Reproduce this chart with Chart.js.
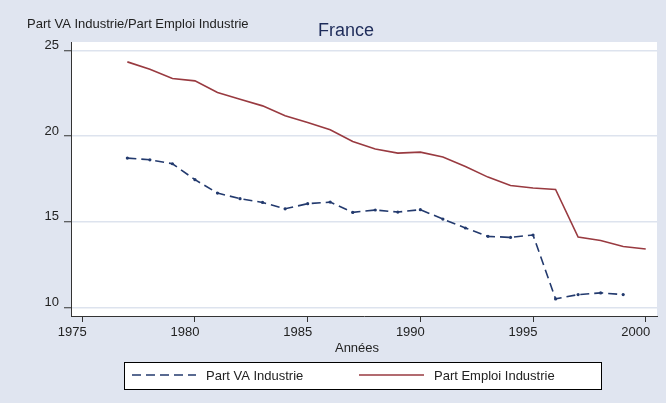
<!DOCTYPE html>
<html><head><meta charset="utf-8">
<script src="https://cdn.jsdelivr.net/npm/chart.js@4"></script>
<style>html,body{margin:0;padding:0;background:#e0e5f0;overflow:hidden}#wrap{width:666px;height:403px}</style>
</head><body><div id="wrap"><canvas id="c" width="666" height="403"></canvas></div>
<script>
// ---- data ----
const years = [1977,1978,1979,1980,1981,1982,1983,1984,1985,1986,1987,1988,1989,1990,1991,1992,1993,1994,1995,1996,1997,1998,1999,2000];
const partVA = [18.72,18.62,18.39,17.46,16.68,16.35,16.13,15.76,16.06,16.15,15.55,15.69,15.57,15.71,15.16,14.64,14.15,14.09,14.23,10.50,10.75,10.85,10.75];
const partEmploi = [24.34,23.91,23.37,23.23,22.55,22.16,21.77,21.19,20.80,20.37,19.69,19.25,19.01,19.07,18.78,18.23,17.61,17.12,16.97,16.89,14.11,13.91,13.56,13.41];
const xTicks = [1975,1980,1985,1990,1995,2000];
const yTicks = [10,15,20,25];
const seriesLabels = ['Part VA Industrie','Part Emploi Industrie'];
const chartTitle = 'France';
const yTitle = 'Part VA Industrie/Part Emploi Industrie';
const xTitle = 'Années';

// ---- styles ----
const FONT = '"Liberation Sans", Arial, Helvetica, sans-serif';
const BG = '#e0e5f0';
const GRID = '#dde3ee';
const NAVY = '#233a6e';
const MAROON = '#993a40';
const AXIS = '#333333';

const toPts = (xs, ys) => ys.map((v, i) => ({x: xs[i], y: v}));

const bgPlugin = {
  id: 'bg',
  beforeDraw(chart) {
    const {ctx, chartArea: a} = chart;
    ctx.save();
    ctx.fillStyle = BG;
    ctx.fillRect(0, 0, chart.width, chart.height);
    ctx.fillStyle = '#ffffff';
    ctx.fillRect(a.left, a.top, a.right - a.left, a.bottom - a.top);
    ctx.restore();
  }
};

const textPlugin = {
  id: 'texts',
  afterDraw(chart) {
    const ctx = chart.ctx;
    ctx.save();
    ctx.textBaseline = 'alphabetic';
    // y title (horizontal, top-left)
    ctx.font = '13px ' + FONT;
    ctx.fillStyle = '#222';
    ctx.textAlign = 'left';
    ctx.fillText(yTitle, 27, 28);
    // main title
    ctx.font = '18px ' + FONT;
    ctx.fillStyle = '#1e2c5a';
    ctx.textAlign = 'center';
    ctx.fillText(chartTitle, 346, 36);
    // x title
    ctx.font = '13px ' + FONT;
    ctx.fillStyle = '#222';
    ctx.fillText(xTitle, 357, 351.5);
    // legend box
    const L = {x: 124.5, y: 362.5, w: 477, h: 27};
    ctx.fillStyle = '#ffffff';
    ctx.fillRect(L.x, L.y, L.w, L.h);
    ctx.strokeStyle = '#000';
    ctx.lineWidth = 1;
    ctx.strokeRect(L.x, L.y, L.w, L.h);
    const items = [{x0: 132, x1: 196, tx: 206}, {x0: 359, x1: 424, tx: 434}];
    const ly = 375;
    chart.data.datasets.forEach((ds, i) => {
      const it = items[i];
      ctx.save();
      ctx.strokeStyle = ds.borderColor;
      ctx.lineWidth = ds.borderWidth;
      ctx.setLineDash(ds.borderDash || []);
      ctx.beginPath();
      ctx.moveTo(it.x0, ly);
      ctx.lineTo(it.x1, ly);
      ctx.stroke();
      ctx.restore();
      ctx.font = '13px ' + FONT;
      ctx.fillStyle = '#222';
      ctx.textAlign = 'left';
      ctx.fillText(ds.label, it.tx, 379.5);
    });
    ctx.restore();
  }
};

new Chart(document.getElementById('c'), {
  type: 'line',
  data: {
    datasets: [
      {label: seriesLabels[0], data: toPts(years, partVA), borderColor: NAVY, backgroundColor: NAVY,
       borderWidth: 1.6, borderDash: [9, 5], pointRadius: 1.6, pointBorderWidth: 0, pointBackgroundColor: NAVY,
       tension: 0, fill: false},
      {label: seriesLabels[1], data: toPts(years, partEmploi), borderColor: MAROON, backgroundColor: MAROON,
       borderWidth: 1.6, pointRadius: 0, tension: 0, fill: false}
    ]
  },
  options: {
    responsive: false,
    devicePixelRatio: 1,
    animation: false,
    layout: {padding: {top: 42, right: 9, left: 0, bottom: 0}},
    plugins: {legend: {display: false}, title: {display: false}, tooltip: {enabled: false}},
    scales: {
      x: {
        type: 'linear', min: 1974.5, max: 2000.5,
        afterBuildTicks: s => { s.ticks = xTicks.map(v => ({value: v})); },
        afterFit: s => { s.height = 87; },
        grid: {drawOnChartArea: false, drawTicks: true, tickLength: 6, tickWidth: 1, tickColor: AXIS},
        border: {color: AXIS, width: 1},
        ticks: {font: {family: FONT, size: 13}, color: '#222', padding: 3, labelOffset: -10,
                maxRotation: 0, callback: v => String(v)}
      },
      y: {
        type: 'linear', min: 9.5, max: 25.5,
        afterBuildTicks: s => { s.ticks = yTicks.map(v => ({value: v})); },
        afterFit: s => { s.width = 71; },
        grid: {color: GRID, lineWidth: 1.5, drawTicks: true, tickLength: 7, tickWidth: 1, tickColor: AXIS},
        border: {color: AXIS, width: 1},
        ticks: {font: {family: FONT, size: 13}, color: '#222', padding: 5, labelOffset: -5,
                callback: v => String(v)}
      }
    }
  },
  plugins: [bgPlugin, textPlugin]
});
</script>
</body></html>
